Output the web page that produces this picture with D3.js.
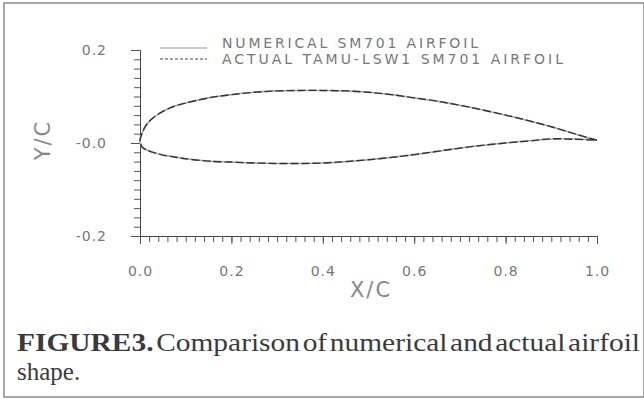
<!DOCTYPE html>
<html>
<head>
<meta charset="utf-8">
<script src="https://cdn.jsdelivr.net/npm/d3@7"></script>
<style>
  body { margin: 0; background: #fff; }
  svg { display: block; }
</style>
</head>
<body>
<svg id="chart"></svg>
<script>
// airfoil outline, trailing edge -> upper surface -> leading edge -> lower surface -> trailing edge
const xc = [1.0, 0.95, 0.9, 0.85, 0.8, 0.75, 0.7, 0.65, 0.6, 0.55, 0.5, 0.45, 0.4, 0.35, 0.3, 0.25, 0.2, 0.15, 0.1, 0.075, 0.05, 0.025, 0.0125, 0.005, 0,
            0.005, 0.0125, 0.025, 0.05, 0.075, 0.1, 0.15, 0.2, 0.25, 0.3, 0.35, 0.4, 0.45, 0.5, 0.55, 0.6, 0.65, 0.7, 0.75, 0.8, 0.85, 0.9, 0.95, 1.0];
const numericalY = [0.006, 0.020, 0.035, 0.048, 0.060, 0.071, 0.081, 0.090, 0.097, 0.104, 0.109, 0.112, 0.113, 0.113, 0.112, 0.109, 0.104, 0.097, 0.086, 0.079, 0.068, 0.051, 0.037, 0.022, 0.003,
                    -0.009, -0.014, -0.019, -0.026, -0.030, -0.034, -0.039, -0.041, -0.043, -0.044, -0.044, -0.043, -0.040, -0.036, -0.031, -0.025, -0.018, -0.011, -0.005, 0.000, 0.005, 0.008, 0.009, 0.006];
const actualY = [0.006, 0.020, 0.035, 0.048, 0.060, 0.071, 0.081, 0.090, 0.097, 0.104, 0.109, 0.112, 0.113, 0.113, 0.112, 0.109, 0.104, 0.097, 0.086, 0.079, 0.068, 0.051, 0.037, 0.022, 0.003,
                 -0.009, -0.014, -0.019, -0.026, -0.030, -0.034, -0.039, -0.041, -0.043, -0.044, -0.044, -0.043, -0.040, -0.036, -0.031, -0.025, -0.018, -0.011, -0.005, 0.000, 0.004, 0.009, 0.008, 0.006];

const legendLabels = ["NUMERICAL  SM701  AIRFOIL", "ACTUAL  TAMU-LSW1  SM701  AIRFOIL"];
const xTicks = [0, 0.2, 0.4, 0.6, 0.8, 1.0];
const yTicks = [-0.2, 0, 0.2];
const captionLines = ["FIGURE3. Comparison of numerical and actual airfoil", "shape."];

const width = 644, height = 400;
const svg = d3.select("#chart")
  .attr("width", width)
  .attr("height", height)
  .attr("viewBox", [0, 0, width, height]);

// frame around figure
svg.append("rect")
  .attr("x", 4).attr("y", 3)
  .attr("width", 640).attr("height", 394)
  .attr("fill", "none")
  .attr("stroke", "#8a8a8a")
  .attr("stroke-width", 1.5);

const x = d3.scaleLinear().domain([0, 1]).range([140, 597]);
const y = d3.scaleLinear().domain([-0.2, 0.2]).range([236, 50]);

const minorX = d3.range(0, 1.0001, 0.02);
const minorY = d3.range(-0.2, 0.2001, 0.02);

const fmtY = d => d === 0 ? "-0.0" : (d < 0 ? "-" : "") + Math.abs(d).toFixed(1);

// minor ticks
svg.append("g")
  .attr("transform", `translate(0,${y(-0.2)})`)
  .call(d3.axisBottom(x).tickValues(minorX).tickSize(6).tickFormat(""))
  .call(g => g.select(".domain").attr("stroke", "#444"))
  .call(g => g.selectAll(".tick line").attr("stroke", "#555"));

svg.append("g")
  .attr("transform", `translate(${x(0)},0)`)
  .call(d3.axisLeft(y).tickValues(minorY).tickSize(6).tickFormat(""))
  .call(g => g.select(".domain").attr("stroke", "#444"))
  .call(g => g.selectAll(".tick line").attr("stroke", "#555"));

// major ticks + labels
svg.append("g")
  .attr("transform", `translate(0,${y(-0.2)})`)
  .call(d3.axisBottom(x).tickValues(xTicks).tickSize(8).tickPadding(22).tickFormat(d3.format(".1f")))
  .call(g => g.select(".domain").remove())
  .call(g => g.selectAll(".tick line").attr("stroke", "#555"))
  .call(g => g.selectAll(".tick text")
    .attr("fill", "#777")
    .attr("font-family", "DejaVu Sans")
    .attr("font-size", 14)
    .attr("letter-spacing", 1));

svg.append("g")
  .attr("transform", `translate(${x(0)},0)`)
  .call(d3.axisLeft(y).tickValues(yTicks).tickSize(9).tickPadding(24).tickFormat(fmtY))
  .call(g => g.select(".domain").remove())
  .call(g => g.selectAll(".tick line").attr("stroke", "#555"))
  .call(g => g.selectAll(".tick text")
    .attr("fill", "#777")
    .attr("font-family", "DejaVu Sans")
    .attr("font-size", 14)
    .attr("letter-spacing", 1));

// axis titles
svg.append("text")
  .attr("x", 371).attr("y", 297)
  .attr("text-anchor", "middle")
  .attr("font-family", "DejaVu Sans")
  .attr("font-size", 21)
  .attr("fill", "#888")
  .attr("letter-spacing", 2)
  .text("X/C");

svg.append("text")
  .attr("transform", "translate(50,140) rotate(-90)")
  .attr("text-anchor", "middle")
  .attr("font-family", "DejaVu Sans")
  .attr("font-size", 21)
  .attr("fill", "#888")
  .attr("letter-spacing", 2)
  .text("Y/C");

// airfoil curves
const line = d3.line()
  .x(d => x(d[0]))
  .y(d => y(d[1]))
  .curve(d3.curveCatmullRom.alpha(0.5));

svg.append("path")
  .datum(xc.map((v, i) => [v, numericalY[i]]))
  .attr("d", line)
  .attr("fill", "none")
  .attr("stroke", "#aaa")
  .attr("stroke-width", 1.6);

svg.append("path")
  .datum(xc.map((v, i) => [v, actualY[i]]))
  .attr("d", line)
  .attr("fill", "none")
  .attr("stroke", "#333")
  .attr("stroke-width", 1.4)
  .attr("stroke-dasharray", "8,3");

// legend
const legend = svg.append("g");
[0, 1].forEach(i => {
  const ly = 48 + i * 11;
  legend.append("line")
    .attr("x1", 160).attr("x2", 207)
    .attr("y1", ly).attr("y2", ly)
    .attr("stroke", i === 0 ? "#999" : "#444")
    .attr("stroke-width", 1)
    .attr("stroke-dasharray", i === 0 ? null : "3,2");
  legend.append("text")
    .attr("x", 222).attr("y", 48 + i * 16)
    .attr("font-family", "DejaVu Sans")
    .attr("font-size", 14)
    .attr("fill", "#777")
    .attr("textLength", i === 0 ? 256 : 341)
    .attr("lengthAdjust", "spacing")
    .text(legendLabels[i]);
});

// caption
svg.append("text")
  .attr("x", 17).attr("y", 351)
  .attr("font-family", "Liberation Serif")
  .attr("font-size", 25)
  .attr("fill", "#3a3a3a")
  .attr("word-spacing", -4)
  .attr("textLength", 623)
  .attr("lengthAdjust", "spacingAndGlyphs")
  .call(t => {
    t.append("tspan").attr("font-weight", "bold").text(captionLines[0].slice(0, 8));
    t.append("tspan").text(captionLines[0].slice(8));
  });

svg.append("text")
  .attr("x", 17).attr("y", 380)
  .attr("font-family", "Liberation Serif")
  .attr("font-size", 25)
  .attr("fill", "#3a3a3a")
  .text(captionLines[1]);
</script>
</body>
</html>
